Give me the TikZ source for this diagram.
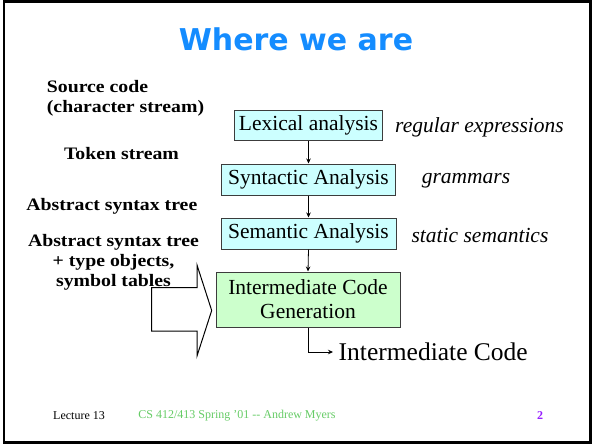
\documentclass[tikz,border=0pt]{standalone}
\usepackage{fontspec}
\setmainfont{Liberation Serif}
\newfontfamily\labfont{Liberation Serif}[FakeStretch=1.13]
\newfontfamily\titlefont{DejaVu Sans}
\usetikzlibrary{arrows.meta}
\definecolor{titleblue}{RGB}{20,140,255}
\definecolor{boxcyan}{RGB}{204,255,255}
\definecolor{boxgreen}{RGB}{204,255,204}
\definecolor{footgreen}{RGB}{102,204,102}
\definecolor{footpurple}{RGB}{150,30,255}
\definecolor{edgegray}{RGB}{60,60,60}
\begin{document}
\begin{tikzpicture}[x=1pt,y=-1pt,
  stagebox/.style={draw=edgegray,line width=1pt,inner sep=0pt,
    font=\fontsize{21.5}{24}\selectfont,align=center},
  leftlabel/.style={inner sep=0pt,font=\labfont\bfseries\fontsize{17.5}{20}\selectfont},
  rightlabel/.style={inner sep=0pt,font=\itshape\fontsize{21.5}{24}\selectfont},
  flow/.style={line width=0.8pt,-{Stealth[length=5pt,width=4.5pt]}},
  footer/.style={inner sep=0pt,font=\fontsize{12}{14}\selectfont}]
\useasboundingbox (0,0) rectangle (592,444);
\fill[white] (0,0) rectangle (592,444);
\draw[line width=2.8pt] (4,1.4) rectangle (590.6,442.6);

% title
\node[text=titleblue,font=\titlefont\bfseries\fontsize{30}{34}\selectfont,inner sep=0pt]
  (title) at (296,39) {Where we are};

% stages
\node[stagebox,fill=boxcyan,minimum width=148pt,minimum height=30.5pt] (lex) at (308.5,125.5) {Lexical analysis};
\node[stagebox,fill=boxcyan,minimum width=174pt,minimum height=31pt] (syn) at (308.5,179.5) {Syntactic Analysis};
\node[stagebox,fill=boxcyan,minimum width=175pt,minimum height=31pt] (sem) at (308.5,233.5) {Semantic Analysis};
\node[stagebox,fill=boxgreen,minimum width=184pt,minimum height=55pt] (icg) at (308,299.5) {Intermediate Code\\Generation};

\draw[flow] (lex.south) -- (syn.north);
\draw[flow] (syn.south) -- (sem.north);
\draw[flow] (sem.south) -- (icg.north);

% output
\node[anchor=west,inner xsep=5.5pt,inner ysep=0pt,font=\fontsize{25.5}{28}\selectfont] (out) at (333,352) {Intermediate Code};
\draw[flow] (icg.south) |- (out.west);

% right labels
\node[rightlabel] (re) at (479.5,127) {regular expressions};
\node[rightlabel] (gr) at (466,180.5) {grammars};
\node[rightlabel] (ss) at (480,235) {static semantics};

% left labels
\node[leftlabel,align=left] (src) at (125.5,98.5) {Source code\\(character stream)};
\node[leftlabel] (tok) at (121.5,154) {Token stream};
\node[leftlabel] (ast) at (111.8,206.5) {Abstract syntax tree};
\node[leftlabel,align=center] (astt) at (113.5,262) {Abstract syntax tree\\+ type objects,\\symbol tables};

% block arrow
\draw[line width=1pt,fill=white,line join=miter]
  (151.7,287.7) -- (197,287.7) -- (197,265) -- (211.7,310.5) -- (197,356)
  -- (197,331) -- (151.7,331) -- cycle;

% footer
\node[footer] (lec) at (79,415.5) {Lecture 13};
\node[footer,text=footgreen] (course) at (237,415.5) {CS 412/413 Spring '01 -{}- Andrew Myers};
\node[footer,text=footpurple,font=\bfseries\fontsize{12}{14}\selectfont] (pg) at (540,415.5) {2};
\end{tikzpicture}
\end{document}
